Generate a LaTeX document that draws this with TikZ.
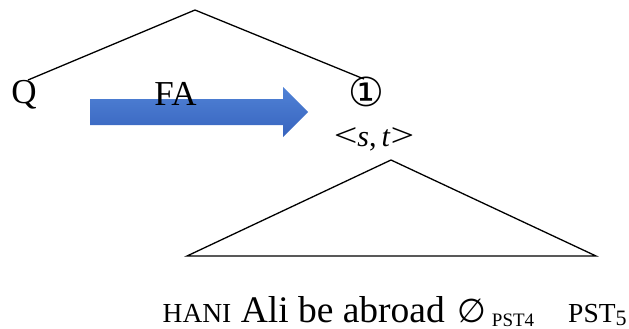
\documentclass[tikz,border=0pt]{standalone}
\usepackage{fontspec}
\setmainfont{Liberation Serif}
\newfontfamily\symsans{DejaVu Sans}
\definecolor{arrowtop}{RGB}{80,130,214}
\definecolor{arrowbot}{RGB}{55,100,190}
\begin{document}
\begin{tikzpicture}[x=1pt,y=-1pt,line width=1.3pt,
  lbl/.style={font=\fontsize{35}{40}\selectfont, inner sep=0pt, anchor=base}]
\useasboundingbox (0,0) rectangle (629,329);
\coordinate (top) at (195,10);
\coordinate (qend) at (28,80);
\coordinate (cend) at (364,79);
\draw (qend) -- (top) -- (cend);
\shade[top color=arrowtop, bottom color=arrowbot]
  (90,99) -- (283,99) -- (283,87) -- (308,112) -- (283,137) -- (283,125) -- (90,125) -- cycle;
\node[lbl] (q) at (24,103) {Q};
\node[lbl] (fa) at (175.5,105) {FA};
\node[font=\symsans\fontsize{40}{44}\selectfont, inner sep=0pt] (one) at (366,92) {①};
\node[lbl, font=\fontsize{30}{34}\selectfont] (st) at (374,146) {\scalebox{1.4}[1.1]{<}\textit{s},\,\textit{t}\scalebox{1.4}[1.1]{>}};
\coordinate (ta) at (391,160);
\coordinate (tl) at (187,256);
\coordinate (tr) at (596,256);
\draw (ta) -- (tl) -- (tr) -- cycle;
\node[anchor=base west, inner sep=0pt, font=\fontsize{37.5}{40}\selectfont] (words) at (162,322)
  {{\fontsize{27.5}{30}\selectfont HANI} Ali be abroad\hspace{3pt} {\symsans\fontsize{33}{36}\selectfont ∅}\hspace{6pt}\raisebox{-4pt}{\fontsize{19}{20}\selectfont PST4}\hspace{34pt}{\fontsize{27.5}{30}\selectfont PST\raisebox{-3pt}{\fontsize{22}{24}\selectfont 5}}};
\end{tikzpicture}
\end{document}
